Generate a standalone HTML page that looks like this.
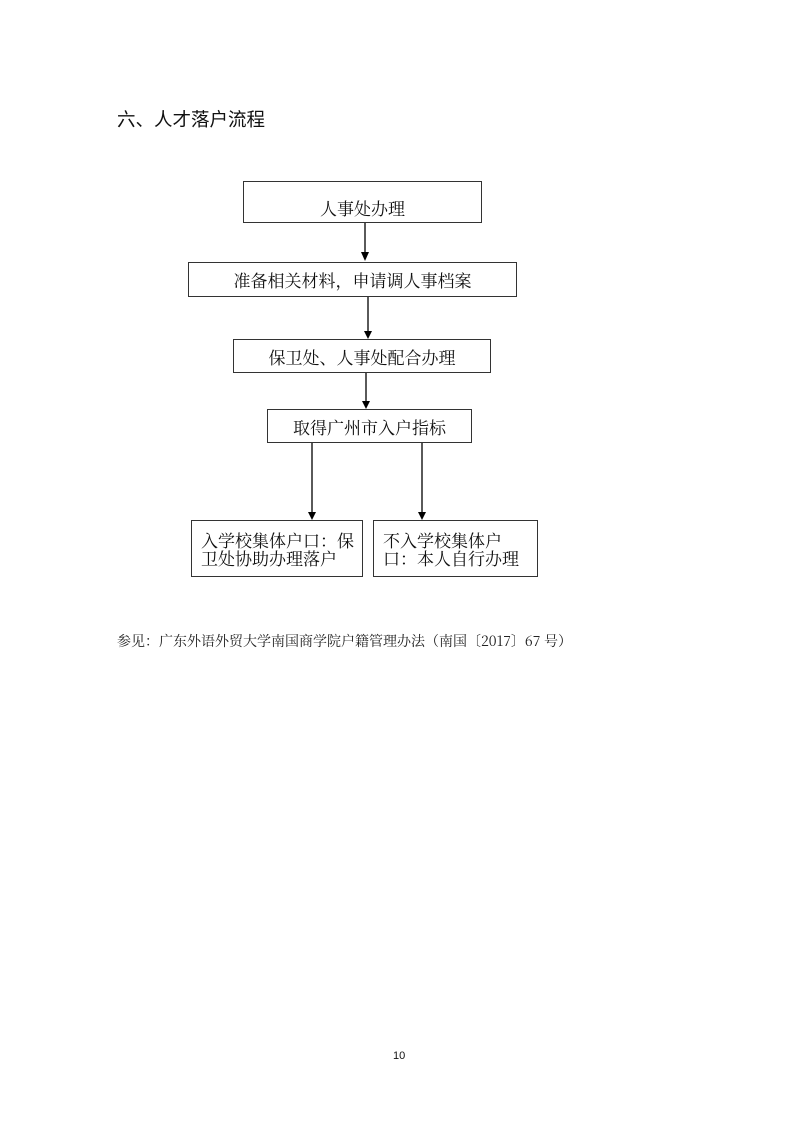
<!DOCTYPE html>
<html><head><meta charset="utf-8"><style>
body{margin:0;width:799px;height:1131px;background:#fff;position:relative;overflow:hidden;font-family:"Noto Serif CJK SC",serif;color:#111}
.b{position:absolute;border:1.5px solid #333;box-sizing:border-box;font-size:17px;display:flex;align-items:center;justify-content:center;white-space:nowrap}
.t{position:absolute;white-space:nowrap}
.ml{justify-content:flex-start;line-height:18px;white-space:normal;padding-left:9px}
</style></head><body>
<div class="t" style="left:117px;top:106px;font-size:18.5px;font-family:'Noto Sans CJK SC',sans-serif;font-weight:400">六、人才落户流程</div>
<div class="b" style="left:243px;top:181px;width:239px;height:42px;padding-top:10px">人事处办理</div>
<div class="b" style="left:188px;top:262px;width:329px;height:35px">准备相关材料，申请调人事档案</div>
<div class="b" style="left:233px;top:339px;width:258px;height:34px">保卫处、人事处配合办理</div>
<div class="b" style="left:267px;top:409px;width:205px;height:34px">取得广州市入户指标</div>
<div class="b ml" style="left:191px;top:520px;width:172px;height:57px">入学校集体户口：保<br>卫处协助办理落户</div>
<div class="b ml" style="left:373px;top:520px;width:165px;height:57px">不入学校集体户<br>口：本人自行办理</div>
<svg style="position:absolute;left:0;top:0" width="799" height="1131">
<g stroke="#000" stroke-width="1.3">
<line x1="365" y1="223" x2="365" y2="252"/>
<line x1="368" y1="297" x2="368" y2="331"/>
<line x1="366" y1="373" x2="366" y2="403"/>
<line x1="312" y1="443" x2="312" y2="514"/>
<line x1="422" y1="443" x2="422" y2="514"/>
</g>
<g fill="#000">
<polygon points="361,252 369,252 365,261"/>
<polygon points="364,331 372,331 368,339"/>
<polygon points="362,401 370,401 366,409"/>
<polygon points="308,512 316,512 312,520"/>
<polygon points="418,512 426,512 422,520"/>
</g>
</svg>
<div class="t" style="left:117px;top:631px;font-size:14px;color:#222">参见：广东外语外贸大学南国商学院户籍管理办法（南国〔2017〕67 号）</div>
<div class="t" style="left:393px;top:1050px;font-size:11px;font-family:'Liberation Sans',sans-serif">10</div>
</body></html>
